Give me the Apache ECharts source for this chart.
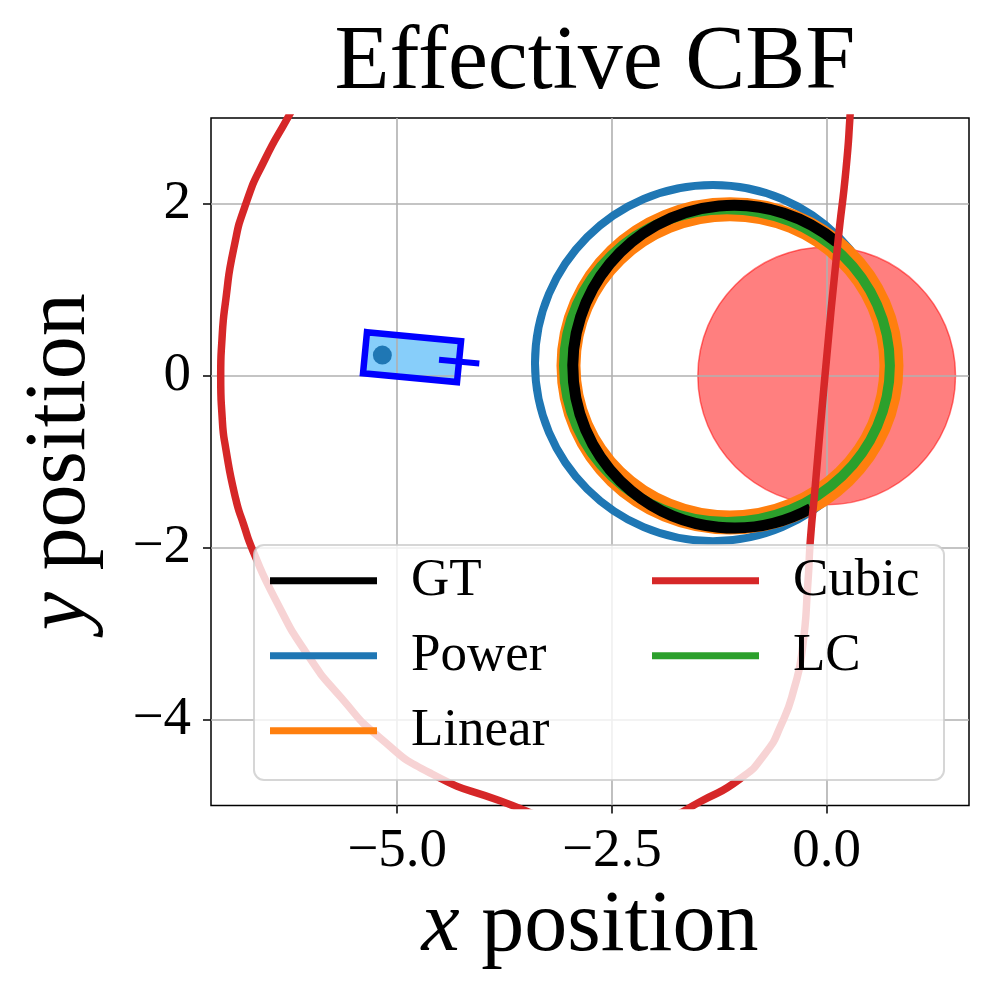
<!DOCTYPE html>
<html>
<head>
<meta charset="utf-8">
<title>Effective CBF</title>
<script src="https://cdn.jsdelivr.net/npm/echarts@6/dist/echarts.min.js"></script>
<style>
  html, body { margin: 0; padding: 0; background: #fff; }
  #chart { width: 1000px; height: 1000px; }
</style>
</head>
<body>
<div id="chart"></div>
<script>
// axis ranges and ticks
const xRange = [-7.168, 1.657];
const yRange = [-5, 3];
const xTickValues = [-5, -2.5, 0];
const xTickLabels = ['\u22125.0', '\u22122.5', '0.0'];
const yTickValues = [-4, -2, 0, 2];
const yTickLabels = ['\u22124', '\u22122', '0', '2'];

// level sets as ellipses: [cx, cy, rx, ry]
const obstacleDisk = [0, 0, 1.5, 1.5];
const powerRing = [-1.324, 0.148, 2.072, 2.072];
const linearRing = [-1.126, 0.116, 1.880, 1.823];
const lcRing = [-1.161, 0.119, 1.897, 1.820];
// GT arc: [cx, cy, r, startDeg, endDeg] (counter-clockwise)
const gtArc = [-1.078, 0.107, 1.878, 50.4, 298.4];

// cubic level set
const cubicX = [-6.0, -6.271, -6.539, -6.760, -6.905, -6.995, -7.040, -7.055, -7.037, -6.995,
  -6.880, -6.790, -6.679, -6.415, -6.054, -5.650, -5.200, -4.600, -3.804, -3.02,
  -2.4, -1.9, -1.474, -1.009, -0.72, -0.53, -0.38, -0.283, -0.218, -0.189,
  -0.136, -0.020, 0.131, 0.225, 0.271, 0.29];
const cubicY = [3.5, 3.008, 2.520, 2.008, 1.473, 0.892, 0.427, 0.0, -0.503, -0.852,
  -1.433, -1.724, -2.038, -2.608, -3.231, -3.748, -4.213, -4.631, -4.945, -5.21,
  -5.3, -5.17, -4.957, -4.690, -4.40, -4.06, -3.643, -3.178, -2.399, -1.899,
  -1.317, 0.0, 1.555, 2.403, 3.008, 3.4];

// robot body corners, centre dot, heading
const robotX = [-5.352, -4.257, -4.304, -5.398];
const robotY = [0.508, 0.403, -0.073, 0.030];
const robotDot = [-5.173, 0.241];
const headingX = [-4.513, -4.044];
const headingY = [0.186, 0.144];

const FONT = '"Liberation Serif", "DejaVu Serif", serif';
const COLORS = {
  GT: '#000000',
  Power: '#1f77b4',
  Linear: '#ff7f0e',
  Cubic: '#d62728',
  LC: '#2ca02c'
};

function tickLabel(values, labels) {
  return (v) => {
    const i = values.findIndex(t => Math.abs(t - v) < 1e-9);
    return i >= 0 ? labels[i] : '';
  };
}

function ellipseSeries(name, ring, color, width, z, fill) {
  return {
    type: 'custom',
    name: name,
    coordinateSystem: 'cartesian2d',
    clip: true,
    z: z,
    silent: true,
    itemStyle: { color: color },
    data: [ring],
    renderItem: (params, api) => {
      const c = api.coord([api.value(0), api.value(1)]);
      const s = api.size([api.value(2), api.value(3)]);
      return {
        type: 'ellipse',
        shape: { cx: c[0], cy: c[1], rx: s[0], ry: s[1] },
        style: { fill: fill || 'none', stroke: color, lineWidth: width }
      };
    }
  };
}

function robotSeries(fill, stroke, width, z) {
  return {
    type: 'custom',
    coordinateSystem: 'cartesian2d',
    z: z,
    silent: true,
    data: [0],
    renderItem: (params, api) => {
      const pts = robotX.map((x, i) => api.coord([x, robotY[i]]));
      return {
        type: 'polygon',
        shape: { points: pts },
        style: { fill: fill, stroke: stroke, lineWidth: width, lineJoin: 'miter' }
      };
    }
  };
}

const chart = echarts.init(document.getElementById('chart'));

const legendText = {
  fontFamily: FONT,
  fontSize: 53,
  lineHeight: 53,
  color: '#000',
  width: 510,
  padding: [0, 0, 0, 29]
};

chart.setOption({
  backgroundColor: '#fff',
  animation: false,
  title: {
    text: 'Effective CBF',
    left: 590,
    textAlign: 'center',
    top: 14,
    textStyle: { fontFamily: FONT, fontSize: 90, fontWeight: 'normal', color: '#000' }
  },
  grid: {
    left: 211,
    right: 31,
    top: 118,
    bottom: 194.5,
    show: true,
    borderColor: '#000',
    borderWidth: 1.5,
    backgroundColor: 'transparent'
  },
  legend: [
    {
      orient: 'vertical',
      left: 254,
      top: 545,
      padding: [9.2, 23, 22.8, 16],
      itemGap: 22,
      itemWidth: 107,
      itemHeight: 7,
      icon: 'rect',
      selectedMode: false,
      backgroundColor: 'rgba(255,255,255,0.8)',
      borderColor: 'rgba(204,204,204,0.8)',
      borderWidth: 2,
      borderRadius: 10,
      data: ['GT', 'Power', 'Linear'],
      textStyle: legendText
    },
    {
      orient: 'vertical',
      left: 652,
      top: 554.2,
      padding: 0,
      z: 5,
      itemGap: 22,
      itemWidth: 107,
      itemHeight: 7,
      icon: 'rect',
      selectedMode: false,
      data: ['Cubic', 'LC'],
      textStyle: Object.assign({}, legendText, { width: 200 })
    }
  ],
  xAxis: {
    type: 'value',
    min: xRange[0],
    max: xRange[1],
    name: '{i|x} position',
    nameLocation: 'middle',
    nameGap: 74,
    nameTextStyle: {
      fontFamily: FONT, fontSize: 86, color: '#000',
      rich: { i: { fontFamily: FONT, fontSize: 86, fontStyle: 'italic', color: '#000' } }
    },
    axisLine: { show: false, onZero: false },
    axisTick: {
      show: true, length: 8, customValues: xTickValues,
      lineStyle: { color: '#000', width: 1.5 }
    },
    axisLabel: {
      customValues: xTickValues,
      formatter: tickLabel(xTickValues, xTickLabels),
      margin: 19,
      fontFamily: FONT, fontSize: 55, color: '#000'
    },
    splitLine: { show: true, lineStyle: { color: '#b0b0b0', width: 1.6 } }
  },
  yAxis: {
    type: 'value',
    min: yRange[0],
    max: yRange[1],
    name: '{i|y} position',
    nameLocation: 'middle',
    nameGap: 107,
    nameRotate: 90,
    nameTextStyle: {
      fontFamily: FONT, fontSize: 86, color: '#000',
      rich: { i: { fontFamily: FONT, fontSize: 86, fontStyle: 'italic', color: '#000' } }
    },
    axisLine: { show: false, onZero: false },
    axisTick: {
      show: true, length: 8, customValues: yTickValues,
      lineStyle: { color: '#000', width: 1.5 }
    },
    axisLabel: {
      customValues: yTickValues,
      formatter: tickLabel(yTickValues, yTickLabels),
      margin: 20,
      fontFamily: FONT, fontSize: 55, color: '#000'
    },
    splitLine: { show: true, lineStyle: { color: '#b0b0b0', width: 1.6 } }
  },
  series: [
    ellipseSeries('Obstacle', obstacleDisk, 'rgba(255,0,0,0.5)', 1.5, -1, 'rgba(255,0,0,0.5)'),
    robotSeries('#87cefa', 'none', 0, -1),
    ellipseSeries('Power', powerRing, COLORS.Power, 8, 2),
    ellipseSeries('Linear', linearRing, COLORS.Linear, 24, 2),
    ellipseSeries('LC', lcRing, COLORS.LC, 10, 2),
    {
      type: 'custom',
      name: 'GT',
      coordinateSystem: 'cartesian2d',
      clip: true,
      z: 2,
      silent: true,
      itemStyle: { color: COLORS.GT },
      data: [gtArc],
      renderItem: (params, api) => {
        const c = api.coord([api.value(0), api.value(1)]);
        const r = api.size([api.value(2), 0])[0];
        return {
          type: 'arc',
          shape: {
            cx: c[0], cy: c[1], r: r,
            startAngle: -api.value(3) * Math.PI / 180,
            endAngle: -api.value(4) * Math.PI / 180,
            clockwise: false
          },
          style: { fill: 'none', stroke: COLORS.GT, lineWidth: 11, lineCap: 'butt' }
        };
      }
    },
    robotSeries('none', '#0000ff', 6.5, 3),
    {
      type: 'line',
      data: headingX.map((x, i) => [x, headingY[i]]),
      symbol: 'none',
      z: 3,
      silent: true,
      lineStyle: { color: '#0000ff', width: 6 }
    },
    {
      type: 'scatter',
      data: [robotDot],
      symbolSize: 19,
      z: 3,
      silent: true,
      itemStyle: { color: COLORS.Power, opacity: 1 }
    },
    {
      type: 'line',
      name: 'Cubic',
      data: cubicX.map((x, i) => [x, cubicY[i]]),
      symbol: 'none',
      smooth: 0.6,
      clip: true,
      z: 3,
      silent: true,
      itemStyle: { color: COLORS.Cubic },
      lineStyle: { color: COLORS.Cubic, width: 7.5 }
    }
  ]
});
</script>
</body>
</html>
